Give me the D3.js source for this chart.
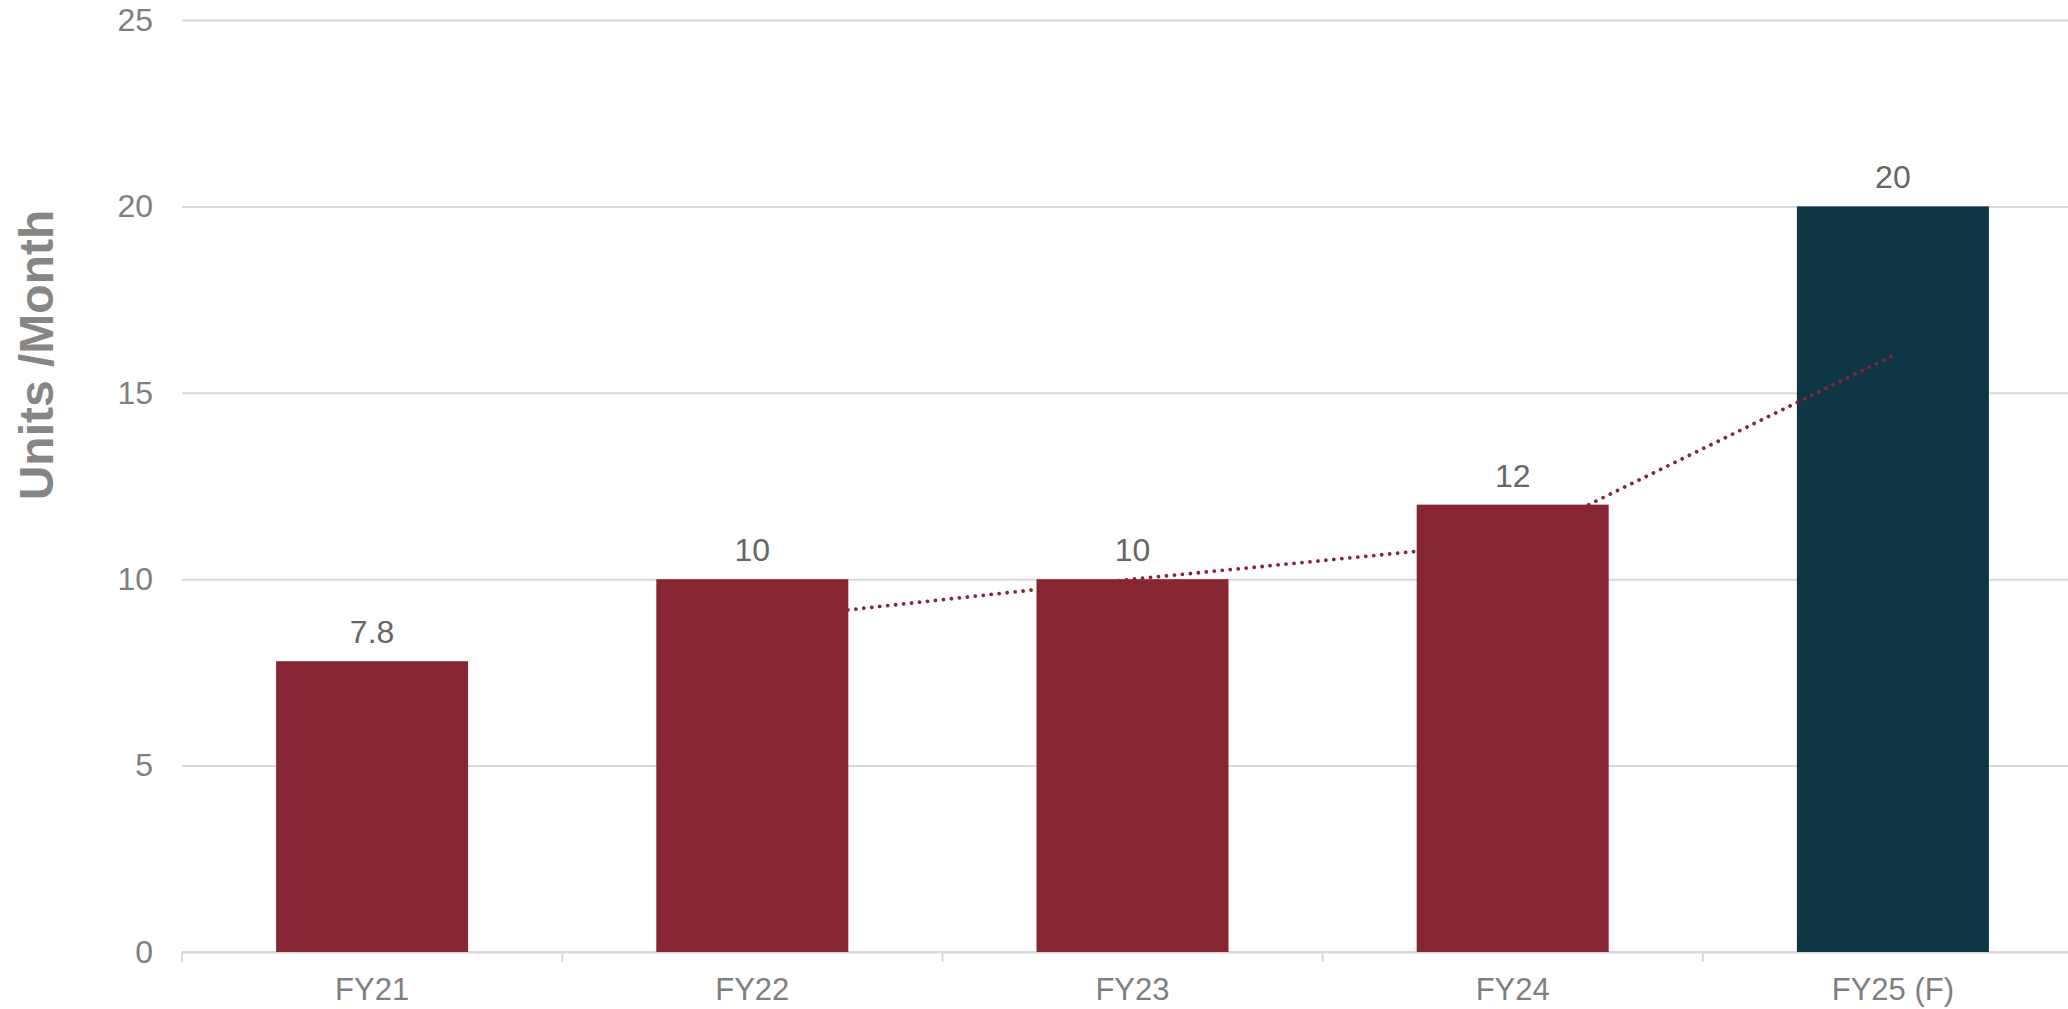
<!DOCTYPE html>
<html>
<head>
<meta charset="utf-8">
<script src="https://cdn.jsdelivr.net/npm/d3@7"></script>
<style>
  html, body { margin: 0; padding: 0; background: #ffffff; overflow: hidden; }
  svg { display: block; font-family: "Liberation Sans", Arial, sans-serif; }
</style>
</head>
<body>
<svg id="chart" width="2068" height="1009"></svg>
<script>
// ---- data ----
const categories = ["FY21", "FY22", "FY23", "FY24", "FY25 (F)"];
const values = [7.8, 10, 10, 12, 20];
const valueLabels = ["7.8", "10", "10", "12", "20"];
const barColors = ["#872633", "#872633", "#872633", "#872633", "#0f3645"];
// 2-period moving average trendline (as drawn), FY22..FY25
const trendCategories = ["FY22", "FY23", "FY24", "FY25 (F)"];
const trendValues = [8.9, 10, 11, 16];
const yTicks = [0, 5, 10, 15, 20, 25];
const yTitle = "Units /Month";

// ---- layout ----
const W = 2068, H = 1009;
const plotLeft = 182, plotRight = 2083, plotTop = 20, plotBottom = 952;

const svg = d3.select("#chart");

const x = d3.scaleBand()
  .domain(categories)
  .range([plotLeft, plotRight])
  .paddingInner(0.495)
  .paddingOuter(0.2475);

const y = d3.scaleLinear().domain([0, 25]).range([plotBottom, plotTop]);

// gridlines
const yAxis = d3.axisLeft(y).tickValues(yTicks).tickSize(-(plotRight - plotLeft)).tickPadding(29).tickFormat(d3.format("d"));
const gy = svg.append("g").attr("transform", `translate(${plotLeft},0)`).call(yAxis);
gy.select(".domain").remove();
gy.selectAll(".tick line").attr("stroke", "#d9d9d9").attr("stroke-width", 2);
gy.selectAll(".tick text")
  .attr("fill", "#7f7f7f")
  .attr("font-size", 32)
  .attr("font-family", "Liberation Sans, Arial, sans-serif");

// x axis baseline + boundary ticks
const step = x.step();
const boundaries = categories.map((c, i) => plotLeft + i * step).concat([plotRight]);
const gx = svg.append("g");
gx.append("line")
  .attr("x1", plotLeft).attr("x2", plotRight)
  .attr("y1", y(0)).attr("y2", y(0))
  .attr("stroke", "#d9d9d9").attr("stroke-width", 2);
gx.selectAll("line.bt").data(boundaries).join("line")
  .attr("class", "bt")
  .attr("x1", d => d).attr("x2", d => d)
  .attr("y1", y(0)).attr("y2", y(0) + 10)
  .attr("stroke", "#d9d9d9").attr("stroke-width", 2);
gx.selectAll("text").data(categories).join("text")
  .attr("x", d => x(d) + x.bandwidth() / 2)
  .attr("y", y(0) + 48)
  .attr("text-anchor", "middle")
  .attr("fill", "#7f7f7f")
  .attr("font-size", 31)
  .text(d => d);

// bars
svg.append("g").selectAll("rect").data(values).join("rect")
  .attr("x", (d, i) => x(categories[i]))
  .attr("y", d => y(d))
  .attr("width", x.bandwidth())
  .attr("height", d => y(0) - y(d))
  .attr("fill", (d, i) => barColors[i]);

// trendline (on top of bars)
const line = d3.line()
  .x((d, i) => x(trendCategories[i]) + x.bandwidth() / 2)
  .y(d => y(d));
svg.append("path")
  .datum(trendValues)
  .attr("d", line)
  .attr("fill", "none")
  .attr("stroke", "#872633")
  .attr("stroke-width", 3.8)
  .attr("stroke-linecap", "round")
  .attr("stroke-dasharray", "0.01 8");

// value labels
svg.append("g").selectAll("text").data(values).join("text")
  .attr("x", (d, i) => x(categories[i]) + x.bandwidth() / 2)
  .attr("y", d => y(d) - 18)
  .attr("text-anchor", "middle")
  .attr("fill", "#666666")
  .attr("font-size", 32)
  .text((d, i) => valueLabels[i]);

// y axis title
svg.append("text")
  .attr("transform", `translate(53, 355) rotate(-90)`)
  .attr("text-anchor", "middle")
  .attr("fill", "#868686")
  .attr("font-size", 48)
  .attr("font-weight", "bold")
  .text(yTitle);
</script>
</body>
</html>
